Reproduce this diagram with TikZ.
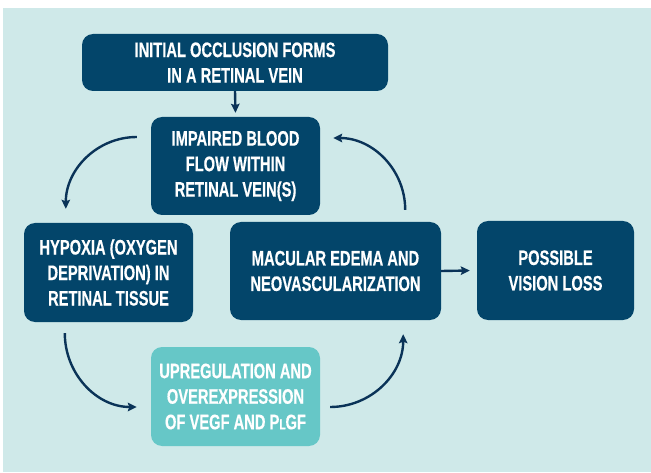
\documentclass[tikz,border=0pt]{standalone}
\usepackage{fontspec}
\setmainfont{Liberation Sans}[FakeStretch=0.70,BoldFeatures={FakeStretch=0.70,FakeBold=0.4}]
\usetikzlibrary{arrows.meta,calc}
\definecolor{bgteal}{HTML}{CFE9E9}
\definecolor{boxdark}{HTML}{03456A}
\definecolor{boxlight}{HTML}{66C7C7}
\definecolor{arrowc}{HTML}{0A3358}
\tikzset{
  box/.style={rounded corners=11pt, align=center, text=white, inner sep=0pt,
    font=\fontsize{21}{25.5}\selectfont\bfseries},
  darkbox/.style={box, fill=boxdark},
  lightbox/.style={box, fill=boxlight},
  conn/.style={draw=arrowc, line width=2.4pt, -{Stealth[length=9pt,width=8.5pt,inset=1.5pt]}}
}
\begin{document}
\begin{tikzpicture}[x=1pt,y=1pt]
\useasboundingbox (0,0) rectangle (651,472);
\fill[white] (0,0) rectangle (651,472);
\fill[bgteal] (3,0) rectangle (651,464);

\node[darkbox, minimum width=306pt, minimum height=57pt] (b1) at (235,409.5)
  {INITIAL OCCLUSION FORMS\\IN A RETINAL VEIN};
\node[darkbox, minimum width=169pt, minimum height=98pt] (b2) at (235.5,306)
  {IMPAIRED BLOOD\\FLOW WITHIN\\RETINAL VEIN(S)};
\node[darkbox, minimum width=169pt, minimum height=99pt] (b3) at (108.5,199.5)
  {HYPOXIA (OXYGEN\\DEPRIVATION) IN\\RETINAL TISSUE};
\node[darkbox, minimum width=211pt, minimum height=98pt] (b4) at (335.5,201)
  {MACULAR EDEMA AND\\NEOVASCULARIZATION};
\node[darkbox, minimum width=157pt, minimum height=99pt] (b5) at (555.5,201.5)
  {POSSIBLE\\VISION LOSS};
\node[lightbox, minimum width=169pt, minimum height=99pt] (b6) at (235.5,75.5)
  {UPREGULATION AND\\OVEREXPRESSION\\OF VEGF AND P{\fontsize{14.5}{14.5}\selectfont L}GF};

\draw[conn] (b1.south) -- ([yshift=4pt]b2.north);
\draw[conn] ($(b2.west)+(-14,29)$) to[out=180,in=90] ($(b3.north west)+(42,14)$);
\draw[conn] ($(b4.north east)+(-36,12)$) to[out=90,in=0] ($(b2.east)+(13,28)$);
\draw[conn] ($(b3.south west)+(41,-11)$) to[out=-90,in=180] ($(b6.west)+(-14,-10.5)$);
\draw[conn] ($(b6.east)+(10,-10.5)$) to[out=0,in=-90] ($(b4.south east)+(-38,-14)$);
\draw[conn] (b4.east) -- ([xshift=-7pt]b5.west);
\end{tikzpicture}
\end{document}
